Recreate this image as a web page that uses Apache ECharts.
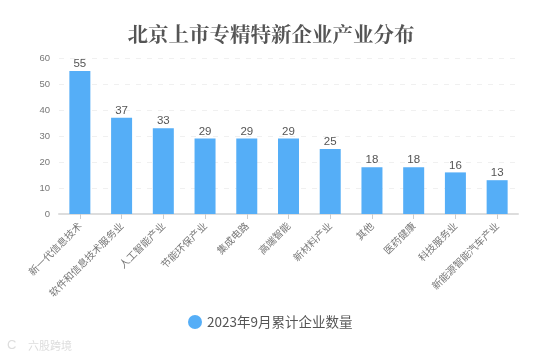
<!DOCTYPE html>
<html><head><meta charset="utf-8">
<style>html,body{margin:0;padding:0;background:#fff}#c{width:542px;height:358px}</style>
<script src="https://cdn.jsdelivr.net/npm/echarts@6/dist/echarts.min.js"></script>
</head><body><div id="c"></div>
<script>
const categories=['新一代信息技术','软件和信息技术服务业','人工智能产业','节能环保产业','集成电路','高端智能','新材料产业','其他','医药健康','科技服务业','新能源智能汽车产业'];
const values=[55,37,33,29,29,29,25,18,18,16,13];
const yTicks=[0,10,20,30,40,50,60];
const seriesName='2023年9月累计企业数量';
const chartTitle='北京上市专精特新企业产业分布';
const watermark='六股跨境';
const sans='"Noto Sans CJK SC","Liberation Sans",sans-serif';
const chart=echarts.init(document.getElementById('c'),null,{renderer:'canvas'});
chart.setOption({
  animation:false,
  backgroundColor:'#fff',
  title:{text:chartTitle,left:'center',top:19,textStyle:{fontFamily:'"Noto Serif CJK SC",serif',fontSize:20.5,fontWeight:'bold',color:'#555'}},
  legend:{bottom:24,left:183,icon:'circle',itemWidth:14,itemHeight:14,itemGap:5,data:[seriesName],
    textStyle:{fontFamily:sans,fontSize:13.5,color:'#555'}},
  grid:{left:59,right:24,top:58,bottom:144},
  xAxis:{type:'category',data:categories,
    axisLine:{lineStyle:{color:'#ddd',width:2}},
    axisTick:{show:true,alignWithLabel:true,length:5,lineStyle:{color:'#ccc'}},
    axisLabel:{interval:0,rotate:45,fontFamily:sans,fontSize:10,color:'#777',margin:10}},
  yAxis:{type:'value',min:yTicks[0],max:yTicks[yTicks.length-1],interval:10,
    axisLine:{show:false},axisTick:{show:false},
    axisLabel:{fontFamily:'"Liberation Sans",sans-serif',fontSize:9.5,color:'#777',margin:9},
    splitLine:{lineStyle:{color:'#f0f0f0',type:[5,6],width:1}}},
  series:[{name:seriesName,type:'bar',data:values,barWidth:21,
    itemStyle:{color:'#55aef7'},
    label:{show:true,position:'top',distance:1,fontFamily:'"Liberation Sans",sans-serif',fontSize:11.5,color:'#555'}}],
  graphic:[
    {type:'text',left:28,top:340,style:{text:watermark,fontFamily:sans,fontSize:11,fill:'#ddd'}},
    {type:'text',left:7,top:339,style:{text:'C',fontFamily:'"Liberation Sans",sans-serif',fontSize:13,fill:'#ddd'}}
  ]
});
</script></body></html>
